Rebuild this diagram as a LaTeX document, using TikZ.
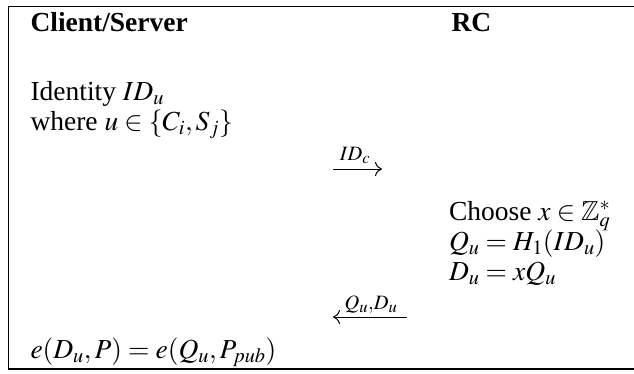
\documentclass[tikz,border=0pt]{standalone}
\usepackage{amsmath,amssymb}
\usepackage{mathptmx}
\usepackage{fontspec}
\setmainfont{Liberation Serif}
\usetikzlibrary{arrows.meta}
\tikzset{
  txt/.style={anchor=base west, inner sep=0pt, outer sep=0pt, font=\fontsize{27.5}{32}\selectfont},
  hdr/.style={txt, font=\fontsize{27.5}{32}\selectfont\bfseries},
  msg/.style={line width=1pt, -{Computer Modern Rightarrow[length=7pt,width=14pt]}},
  lbl/.style={inner sep=0pt, anchor=base, font=\fontsize{27.5}{32}\selectfont},
  frame/.style={line width=1.4pt}
}
\begin{document}
\begin{tikzpicture}[x=1pt,y=-1pt]
\useasboundingbox (0,0) rectangle (634,373);
\draw[frame] (634,6.7) -- (8.3,6.7) -- (8.3,369) -- (634,369);
\node[hdr] (cs) at (30.5,31.5) {Client/Server};
\node[hdr] (rc) at (451.5,31.5) {RC};
\node[txt] (id) at (30.5,100) {Identity $ID_u$};
\node[txt] (wh) at (30.5,130) {where $u\in\{C_i,S_j\}$};
\coordinate (a1s) at (333,169);
\coordinate (a1e) at (382,169);
\draw[msg] (a1s) -- (a1e);
\node[lbl] (l1) at (355,160) {$\scriptstyle ID_c$};
\node[txt] (ch) at (449,220) {Choose $x\in\mathbb{Z}_q^*$};
\node[txt] (qu) at (449,250) {$Q_u=H_1(ID_u)$};
\node[txt] (du) at (449,280) {$D_u=xQ_u$};
\coordinate (a2s) at (407,317);
\coordinate (a2e) at (333,317);
\draw[msg] (a2s) -- (a2e);
\node[lbl] (l2) at (371,309) {$\scriptstyle Q_u,D_u$};
\node[txt] (eq) at (30.5,358) {$e(D_u,P)=e(Q_u,P_{pub})$};
\end{tikzpicture}
\end{document}
